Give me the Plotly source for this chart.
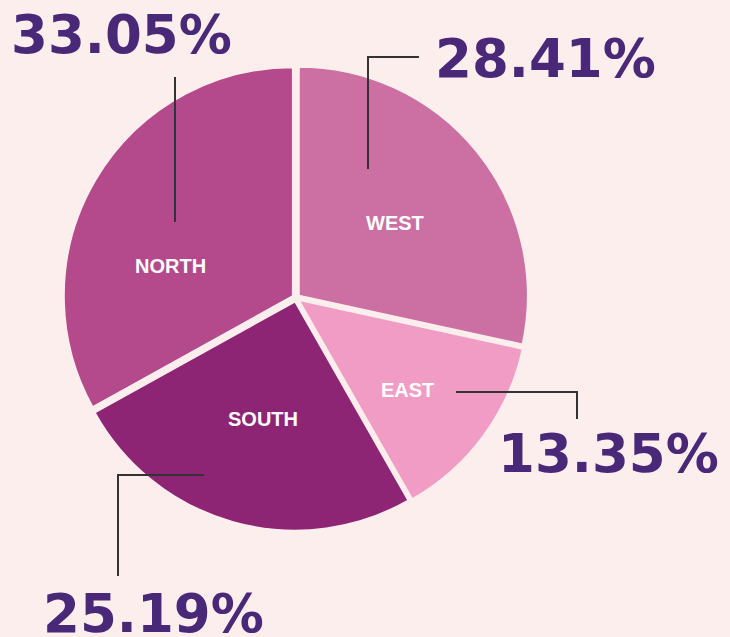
import plotly.graph_objects as go

W, H = 730, 637
regions = ["WEST", "EAST", "SOUTH", "NORTH"]
shares = [28.41, 13.35, 25.19, 33.05]
colors = ["#cc6fa3", "#f09cc4", "#8e2574", "#b44a8c"]

BG = "#fdeeee"
PURPLE = "#4a2878"


def px(x):
    return x / W


def py(y):
    return 1 - y / H


cx, cy, half = 296, 298, 232.5
fig = go.Figure(go.Pie(
    labels=regions,
    values=shares,
    sort=False,
    direction="clockwise",
    rotation=0,
    pull=[0.017] * 4,
    marker=dict(colors=colors, line=dict(color=BG, width=1.5)),
    textinfo="none",
    hoverinfo="label+percent",
    domain=dict(x=[px(cx - half), px(cx + half)], y=[py(cy + half), py(cy - half)]),
    showlegend=False,
))

# inside name labels (pixel centres)
name_pos = {"WEST": (395, 223), "EAST": (407, 390), "SOUTH": (263, 419), "NORTH": (170, 266)}
# percentage labels (pixel centres)
pct_pos = {"WEST": (545, 58), "EAST": (608, 453), "SOUTH": (153, 613), "NORTH": (121, 34)}

annotations = []
for name, val in zip(regions, shares):
    x, y = name_pos[name]
    annotations.append(dict(x=px(x), y=py(y), xref="paper", yref="paper", text=f"<b>{name}</b>",
                            showarrow=False, xanchor="center", yanchor="middle",
                            font=dict(family="Liberation Sans, Arial, sans-serif", size=20, color="white")))
    x, y = pct_pos[name]
    annotations.append(dict(x=px(x), y=py(y), xref="paper", yref="paper", text=f"<b>{val:.2f}%</b>",
                            showarrow=False, xanchor="center", yanchor="middle",
                            font=dict(family="DejaVu Sans, sans-serif", size=53, color=PURPLE)))

leaders = [
    [(175, 77), (175, 222)],
    [(368, 169), (368, 57), (419, 57)],
    [(456, 392), (577, 392), (577, 419)],
    [(204, 475), (118, 475), (118, 576)],
]
shapes = []
for pts in leaders:
    path = "M " + " L ".join(f"{px(x)},{py(y)}" for x, y in pts)
    shapes.append(dict(type="path", xref="paper", yref="paper", path=path,
                       line=dict(color="#333333", width=2)))

fig.update_layout(
    width=W, height=H,
    margin=dict(l=0, r=0, t=0, b=0),
    paper_bgcolor=BG, plot_bgcolor=BG,
    annotations=annotations,
    shapes=shapes,
)

fig.write_html("out.html",
               config={"displayModeBar": False},
               post_script="document.body.style.margin='0';document.body.style.padding='0';"
                           "document.body.style.background='" + BG + "';")
